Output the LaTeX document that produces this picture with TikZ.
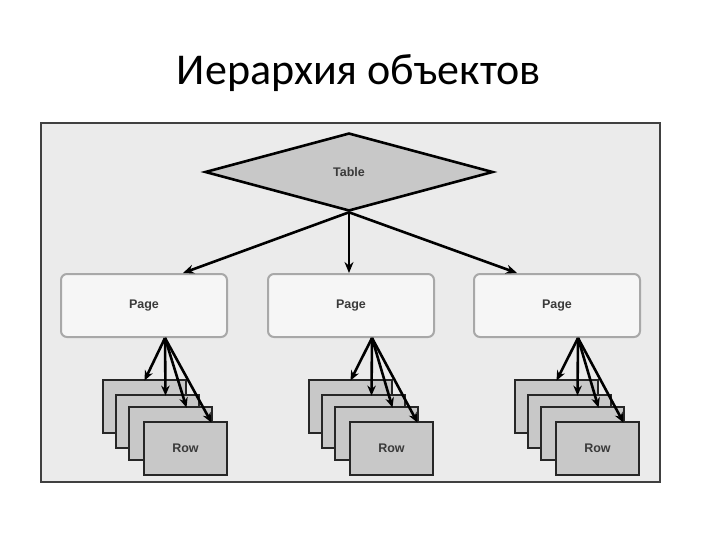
\documentclass[tikz,border=0pt]{standalone}
\usepackage{fontspec}
\setmainfont{Carlito}
\newfontfamily\labfont{Liberation Sans}
\usetikzlibrary{shapes.geometric,arrows.meta,calc}
\definecolor{bgframe}{HTML}{EBEBEB}
\definecolor{shapegray}{HTML}{C8C8C8}
\definecolor{pagefill}{HTML}{F6F6F6}
\definecolor{pageedge}{HTML}{A8A8A8}
\definecolor{labgray}{HTML}{3A3A3A}
\begin{document}
\begin{tikzpicture}[x=1pt,y=-1pt,
  lab/.style={font=\labfont\bfseries\fontsize{12.5}{14}\selectfont, text=labgray},
  tablebox/.style={diamond, draw=black, line width=2.6pt, fill=shapegray, inner sep=0pt, minimum width=288pt, minimum height=78pt, lab},
  pagebox/.style={rectangle, rounded corners=6pt, draw=pageedge, line width=2pt, fill=pagefill, minimum width=166pt, minimum height=63pt, lab},
  rowbox/.style={rectangle, draw=black!85, line width=2.8pt, fill=shapegray, minimum width=83pt, minimum height=53pt, lab},
  arr/.style={line width=2.6pt, -{Stealth[length=11pt,width=9pt]}},
  rarr/.style={line width=2.6pt, -{Stealth[length=10pt,width=8.5pt]}}
]
\useasboundingbox (0,0) rectangle (720,540);
\fill[white] (0,0) rectangle (720,540);
\node[font=\fontsize{44}{52}\selectfont, anchor=base] (title) at (359,85) {Иерархия объектов};
\node[rectangle, draw=black!75, line width=2pt, fill=bgframe, minimum width=619pt, minimum height=359pt, inner sep=0pt] (frame) at (350.5,302.5) {};

\node[tablebox] (table) at (349,172) {Table};

\node[pagebox] (p1) at (144,305.5) {Page};
\node[pagebox] (p2) at (351,305.5) {Page};
\node[pagebox] (p3) at (557,305.5) {Page};

\draw[arr] (table.south) -- ([xshift=39pt]p1.north);
\draw[arr] (table.south) -- (table.south |- p2.north);
\draw[arr] (table.south) -- ([xshift=-40pt]p3.north);

\foreach \i/\x in {1/144.5, 2/350.5, 3/556.5} {
  \node[rowbox] (r\i a) at (\x,406.5) {};
  \node[rowbox] (r\i b) at (\x+13,421.5) {};
  \node[rowbox] (r\i c) at (\x+26,433.5) {};
  \node[rowbox] (r\i d) at (\x+41,448.5) {Row};
  \coordinate (o\i) at ([xshift=21pt]p\i.south);
  \draw[rarr] (o\i) -- ([yshift=-2pt]r\i a.north);
  \draw[rarr] (o\i) -- ([xshift=8pt,yshift=-2pt]r\i b.north);
  \draw[rarr] (o\i) -- ([xshift=16pt,yshift=-2pt]r\i c.north);
  \draw[rarr] (o\i) -- ([xshift=26pt,yshift=-2pt]r\i d.north);
}
\end{tikzpicture}
\end{document}
